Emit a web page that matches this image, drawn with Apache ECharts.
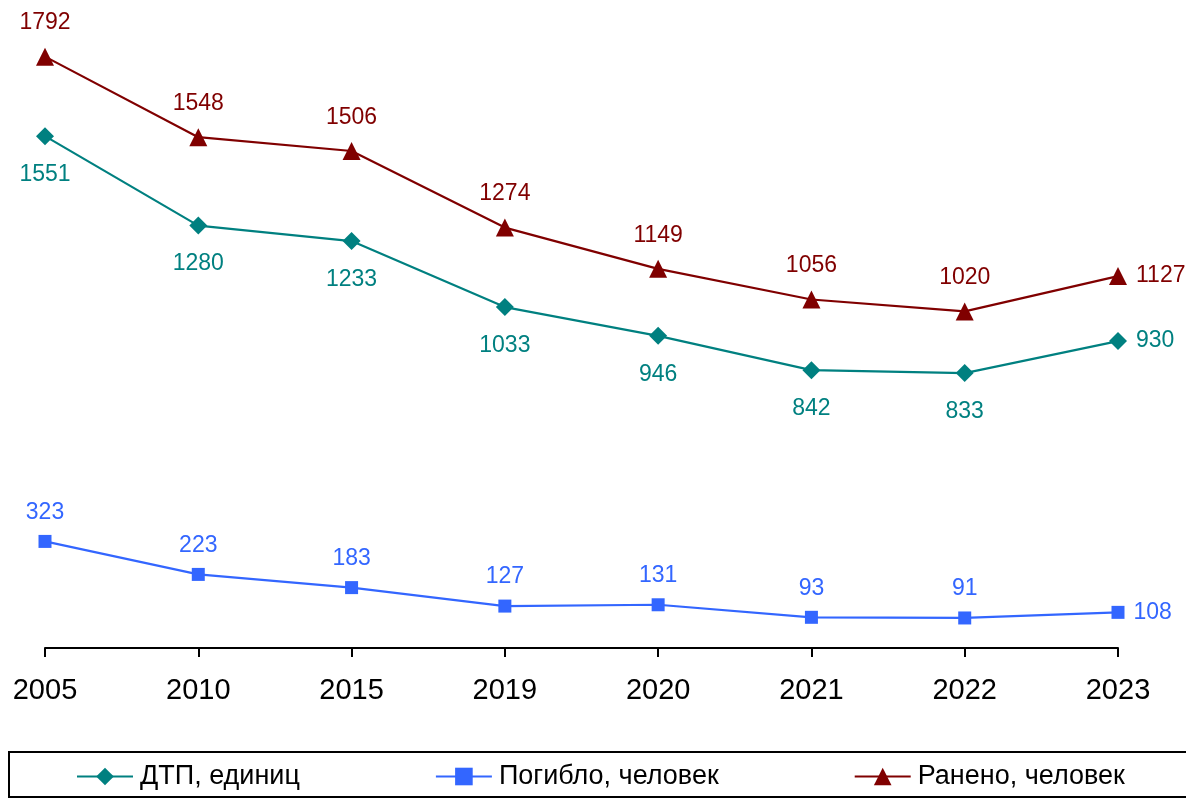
<!DOCTYPE html>
<html>
<head>
<meta charset="utf-8">
<script src="https://cdn.jsdelivr.net/npm/echarts@6/dist/echarts.min.js"></script>
<style>
  html, body { margin: 0; padding: 0; background: #fff; }
  #chart { width: 1186px; height: 799px; }
</style>
</head>
<body>
<div id="chart"></div>
<script>
const years = ['2005', '2010', '2015', '2019', '2020', '2021', '2022', '2023']
const dtp = [1551, 1280, 1233, 1033, 946, 842, 833, 930]
const killed = [323, 223, 183, 127, 131, 93, 91, 108]
const injured = [1792, 1548, 1506, 1274, 1149, 1056, 1020, 1127]

const font = 'Arial, "Liberation Sans", sans-serif'
const myChart = echarts.init(document.getElementById('chart'))

// последняя точка подписывается справа
const withLabels = arr => arr.map((v, i) => i === arr.length - 1
  ? { value: v, label: { position: 'right', distance: 9 } }
  : v)

const lineSeries = (name, data, color, symbol, size, pos, dist) => ({
  name,
  type: 'line',
  data: withLabels(data),
  symbol,
  symbolSize: size,
  color,
  lineStyle: { color, width: 2.2 },
  itemStyle: { color },
  label: {
    show: true,
    position: pos,
    distance: dist,
    color,
    fontSize: 23,
    fontFamily: font
  },
  emphasis: { disabled: true },
  animation: false
})

const option = {
  backgroundColor: '#fff',
  grid: { left: 45, right: 68, top: 54, bottom: 151 },
  xAxis: {
    type: 'category',
    data: years,
    boundaryGap: false,
    axisLine: { lineStyle: { color: '#000', width: 2 } },
    axisTick: { alignWithLabel: true, length: 9, lineStyle: { color: '#000', width: 2 } },
    axisLabel: { color: '#000', fontSize: 29, fontFamily: font, margin: 28 }
  },
  yAxis: {
    type: 'value', min: 0, max: 1800,
    show: false, splitLine: { show: false }
  },
  legend: {
    left: 71, top: 758,
    itemGap: 135,
    itemWidth: 56, itemHeight: 22,
    textStyle: { color: '#000', fontSize: 27, fontFamily: font, padding: [0, 0, 0, 2] },
    data: ['ДТП, единиц', 'Погибло, человек', 'Ранено, человек']
  },
  graphic: [{
    type: 'rect',
    shape: { x: 9, y: 752, width: 1190, height: 45 },
    style: { fill: 'none', stroke: '#000', lineWidth: 2 }
  }],
  series: [
    lineSeries('ДТП, единиц', dtp, '#008080', 'diamond', 18, 'bottom', 18),
    lineSeries('Погибло, человек', killed, '#3366FF', 'rect', 13, 'top', 11),
    lineSeries('Ранено, человек', injured, '#800000', 'triangle', 18, 'top', 13)
  ]
}

myChart.setOption(option)
</script>
</body>
</html>
